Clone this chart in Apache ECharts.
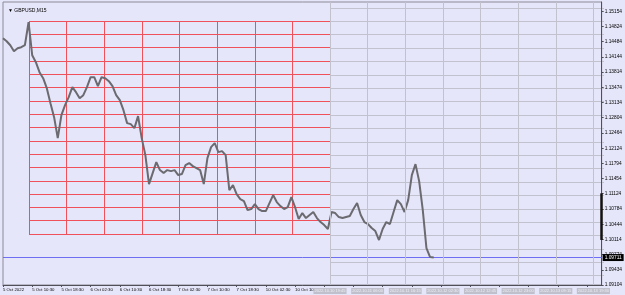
<!DOCTYPE html>
<html>
<head>
<meta charset="utf-8">
<script src="https://cdn.jsdelivr.net/npm/echarts@6/dist/echarts.min.js"></script>
<style>
  html, body { margin: 0; padding: 0; background: #e6e6fa; }
  #chart { width: 625px; height: 295px; }
</style>
</head>
<body>
<div id="chart"></div>
<script>
// GBPUSD M15, one point per hour
const closes = [
  1.14559, 1.14493, 1.14405, 1.14272, 1.14338, 1.14361, 1.14405, 1.14913, 1.14184, 1.14029,
  1.13808, 1.13676, 1.13455, 1.13124, 1.12814, 1.12351, 1.12859, 1.13080, 1.13256, 1.13477,
  1.13367, 1.13234, 1.13300, 1.13477, 1.13698, 1.13698, 1.13499, 1.13698, 1.13676, 1.13610,
  1.13499, 1.13300, 1.13190, 1.12969, 1.12682, 1.12660, 1.12572, 1.12837, 1.12351, 1.11975,
  1.11335, 1.11578, 1.11821, 1.11644, 1.11578, 1.11644, 1.11622, 1.11644, 1.11534, 1.11556,
  1.11754, 1.11799, 1.11732, 1.11688, 1.11644, 1.11335, 1.11909, 1.12152, 1.12240, 1.12041,
  1.12064, 1.11975, 1.11202, 1.11313, 1.11114, 1.11003, 1.10959, 1.10761, 1.10783, 1.10893,
  1.10783, 1.10738, 1.10738, 1.10915, 1.11092, 1.10937, 1.10849, 1.10783, 1.10827, 1.11048,
  1.10827, 1.10562, 1.10694, 1.10584, 1.10650, 1.10716, 1.10584, 1.10495, 1.10429, 1.10341,
  1.10716, 1.10694, 1.10606, 1.10584, 1.10606, 1.10628, 1.10783, 1.10915, 1.10650, 1.10495,
  1.10451, 1.10363, 1.10297, 1.10098, 1.10341, 1.10495, 1.10451, 1.10716, 1.10981, 1.10893,
  1.10716, 1.10981, 1.11534, 1.11776, 1.11401, 1.10761, 1.09921, 1.09722, 1.09711
];
const lastPrice = 1.09711;
const rangeBar = [1.11130, 1.10100]; // dark bar on the price scale

// price scale labels
const priceTicks = [
  1.09104, 1.09434, 1.09774, 1.10114, 1.10444, 1.10784, 1.11124, 1.11454, 1.11794, 1.12124,
  1.12464, 1.12804, 1.13134, 1.13474, 1.13814, 1.14144, 1.14484, 1.14824, 1.15154
];
// time scale labels, one every 8 hours
const timeLabels = [
  '5 Oct 2022', '5 Oct 10:30', '5 Oct 18:30', '6 Oct 02:30', '6 Oct 10:30', '6 Oct 18:30',
  '7 Oct 02:30', '7 Oct 10:30', '7 Oct 18:30', '10 Oct 02:30', '10 Oct 10:30'
];
// labels of the vertical lines on the right side
const lineLabels = [
  '2022.10.10 19:45', '2022.10.11 06:00', '2022.10.11 16:15', '2022.10.12 02:30',
  '2022.10.12 12:45', '2022.10.12 23:00', '2022.10.13 09:15', '2022.10.13 19:30'
];
const hourCount = 165;
const categories = Array.from({ length: hourCount }, (_, i) => String(i));

const FONT = "'Liberation Sans', sans-serif";
const RED = '#f0505a';
const GRAY = '#c2c2ce';

const chart = echarts.init(document.getElementById('chart'));

const hidden = { axisLine: { show: false }, axisTick: { show: false }, axisLabel: { show: false } };

const option = {
  backgroundColor: '#e6e6fa',
  animation: false,
  title: {
    text: '▼ GBPUSD,M15', left: 3, top: 3,
    textStyle: { fontSize: 5, fontWeight: 'normal', color: '#000', fontFamily: FONT }
  },
  grid: [
    { left: 3, right: 21, top: 2, bottom: 10, show: true, borderColor: '#8a8a96', borderWidth: 1 },
    { left: 29, top: 21, width: 301, height: 213 },
    { left: 330, top: 7.9, width: 274, height: 267.8 },
    { left: 330, top: 2, width: 263.4, bottom: 10 }
  ],
  xAxis: [
    {
      gridIndex: 0, type: 'category', data: categories, boundaryGap: false,
      axisLine: { lineStyle: { color: '#505058' } },
      axisTick: { interval: 7, length: 2, lineStyle: { color: '#505058' } },
      axisLabel: {
        interval: 7, align: 'left', margin: 3, fontSize: 4.3, color: '#000', fontFamily: FONT,
        formatter: (v, i) => timeLabels[i / 8] || ''
      },
      splitLine: { show: false }
    },
    Object.assign({ gridIndex: 1, type: 'value', min: 0, max: 8, interval: 1,
      splitLine: { show: true, lineStyle: { color: RED, width: 1 } } }, hidden),
    Object.assign({ gridIndex: 2, type: 'value', min: 0, max: 1,
      splitLine: { show: false } }, hidden),
    {
      gridIndex: 3, type: 'value', min: 0, max: 7, interval: 1, z: 10,
      axisLine: { show: false }, axisTick: { show: false },
      splitLine: { show: true, lineStyle: { color: GRAY, width: 1 } },
      axisLabel: {
        show: true, margin: 3, fontSize: 4, fontFamily: FONT, color: '#eeeef6',
        backgroundColor: '#c0c0cc', padding: [1, 1],
        formatter: v => lineLabels[v] || ''
      }
    }
  ],
  yAxis: [
    {
      gridIndex: 0, type: 'value', position: 'right', min: 1.09104, max: 1.1536,
      splitLine: { show: false },
      axisLine: { show: true, lineStyle: { color: '#505058' } },
      axisTick: { show: true, length: 2, customValues: priceTicks, lineStyle: { color: '#505058' } },
      axisLabel: {
        customValues: priceTicks, margin: 3, fontSize: 4.8, color: '#000', fontFamily: FONT,
        formatter: v => v.toFixed(5)
      }
    },
    Object.assign({ gridIndex: 1, type: 'value', min: 0, max: 16, interval: 1,
      splitLine: { show: true, lineStyle: { color: RED, width: 1 } } }, hidden),
    Object.assign({ gridIndex: 2, type: 'value', min: 0, max: 20, interval: 1,
      splitLine: { show: true, lineStyle: { color: GRAY, width: 1 } } }, hidden),
    Object.assign({ gridIndex: 3, type: 'value', min: 0, max: 1,
      splitLine: { show: false } }, hidden)
  ],
  series: [
    {
      type: 'line', xAxisIndex: 0, yAxisIndex: 0, data: closes, z: 5,
      symbol: 'none', lineStyle: { color: '#6a6a70', width: 2 },
      markLine: {
        silent: true, symbol: 'none', animation: false, precision: 5,
        lineStyle: { color: '#6e6ef2', width: 1, type: 'solid' },
        label: { show: false },
        data: [
          {
            yAxis: lastPrice,
            label: {
              show: true, position: 'end', distance: 1, formatter: lastPrice.toFixed(5),
              backgroundColor: '#000', color: '#fff', fontSize: 4.8, fontFamily: FONT, padding: [1, 2]
            }
          },
          [
            { coord: [hourCount - 1, rangeBar[0]], lineStyle: { color: '#111', width: 2.5, type: 'solid' } },
            { coord: [hourCount - 1, rangeBar[1]] }
          ]
        ]
      }
    }
  ]
};

chart.setOption(option);
</script>
</body>
</html>
